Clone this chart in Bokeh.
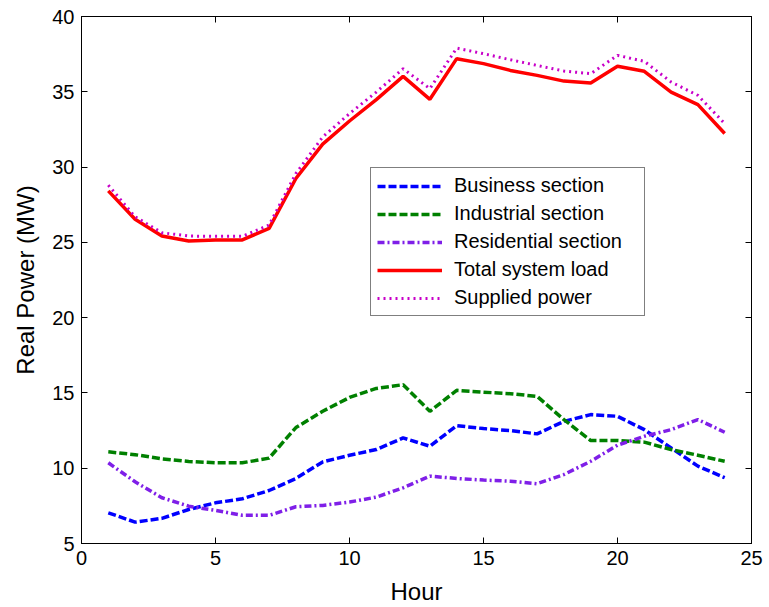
from bokeh.plotting import figure
from bokeh.models import (LinearAxis, FixedTicker, Legend, LegendItem, Range1d,
                          CustomLabelingPolicy)
from bokeh.embed import file_html
from bokeh.resources import INLINE

hours = list(range(1, 25))
business = [7.04, 6.42, 6.67, 7.26, 7.70, 7.97, 8.52, 9.32, 10.42, 10.86, 11.24, 12.01,
            11.46, 12.83, 12.63, 12.50, 12.28, 13.11, 13.56, 13.45, 12.56, 11.35, 10.14, 9.37]
industrial = [11.09, 10.90, 10.62, 10.45, 10.36, 10.36, 10.67, 12.70, 13.78, 14.70, 15.30, 15.55,
              13.78, 15.17, 15.05, 14.95, 14.77, 13.23, 11.84, 11.84, 11.73, 11.24, 10.86, 10.46]
residential = [10.36, 9.10, 8.04, 7.48, 7.20, 6.87, 6.87, 7.44, 7.53, 7.75, 8.08, 8.70,
               9.47, 9.32, 9.21, 9.14, 8.97, 9.58, 10.46, 11.53, 12.12, 12.56, 13.23, 12.39]
total_load = [28.42, 26.53, 25.42, 25.09, 25.16, 25.16, 25.93, 29.24, 31.52, 33.06, 34.48, 36.02,
              34.50, 37.20, 36.87, 36.42, 36.09, 35.71, 35.58, 36.69, 36.36, 34.98, 34.15, 32.23]
supplied = [28.80, 26.70, 25.64, 25.42, 25.40, 25.40, 26.15, 29.57, 32.00, 33.55, 34.98, 36.53,
            35.21, 37.90, 37.53, 37.13, 36.75, 36.38, 36.20, 37.42, 37.02, 35.65, 34.76, 32.89]

x_ticks = [0, 5, 10, 15, 20, 25]
y_ticks = [5, 10, 15, 20, 25, 30, 35, 40]

FONT = "Liberation Sans"

p = figure(width=769, height=607, output_backend="svg", toolbar_location=None,
           x_range=Range1d(0, 25), y_range=Range1d(5, 40),
           min_border_left=81, min_border_right=18, min_border_top=16, min_border_bottom=63)
p.background_fill_color = "white"
p.border_fill_color = "white"
p.outline_line_color = "black"
p.outline_line_width = 1
p.xgrid.visible = False
p.ygrid.visible = False

no_labels = CustomLabelingPolicy(code="""
const all = [...indices];
for (const i of all) indices.unset(i);
return indices;
""")

def style_axis(ax, ticks, labels=True):
    ax.ticker = FixedTicker(ticks=ticks)
    ax.major_tick_in = 6
    ax.major_tick_out = 0
    ax.minor_tick_in = 0
    ax.minor_tick_out = 0
    ax.axis_line_color = "black"
    ax.major_tick_line_color = "black"
    ax.major_label_text_font = FONT
    ax.major_label_text_color = "black"
    if labels:
        ax.major_label_text_font_size = "20px"
        ax.major_label_standoff = 7
    else:
        ax.major_label_text_font_size = "0px"
        ax.major_label_standoff = 0
        ax.major_label_policy = no_labels

style_axis(p.xaxis[0], x_ticks)
style_axis(p.yaxis[0], y_ticks)
p.xaxis.axis_label = "Hour"
p.yaxis.axis_label = "Real Power (MW)"
for ax in (p.xaxis[0], p.yaxis[0]):
    ax.axis_label_text_font = FONT
    ax.axis_label_text_font_size = "24px"
    ax.axis_label_text_font_style = "normal"
    ax.axis_label_text_color = "black"
p.xaxis.axis_label_standoff = 10
p.yaxis.axis_label_standoff = 10

top = LinearAxis()
right = LinearAxis()
style_axis(top, x_ticks, labels=False)
style_axis(right, y_ticks, labels=False)
p.add_layout(top, "above")
p.add_layout(right, "right")

r1 = p.line(hours, business, line_color="#0000FF", line_width=3.5, line_dash="8 3")
r2 = p.line(hours, industrial, line_color="#008000", line_width=3.5, line_dash="8 3")
r3 = p.line(hours, residential, line_color="#7F1FE8", line_width=3.5, line_dash="7 3 2 3")
r4 = p.line(hours, total_load, line_color="#FF0000", line_width=3.5)
r5 = p.line(hours, supplied, line_color="#C800C8", line_width=3, line_dash="2 4")

legend = Legend(items=[
    LegendItem(label="Business section", renderers=[r1]),
    LegendItem(label="Industrial section", renderers=[r2]),
    LegendItem(label="Residential section", renderers=[r3]),
    LegendItem(label="Total system load", renderers=[r4]),
    LegendItem(label="Supplied power", renderers=[r5]),
], location=(289, 227))
legend.label_text_font = FONT
legend.label_text_font_size = "20px"
legend.label_text_color = "black"
legend.border_line_color = "black"
legend.border_line_width = 1
legend.background_fill_color = "white"
legend.background_fill_alpha = 1
legend.padding = 6
legend.spacing = 5
legend.glyph_height = 22
legend.label_height = 22
legend.glyph_width = 65
legend.label_standoff = 12
legend.label_width = 184
legend.margin = 0
p.add_layout(legend, "center")

open("out.html", "w").write(file_html(p, INLINE))
